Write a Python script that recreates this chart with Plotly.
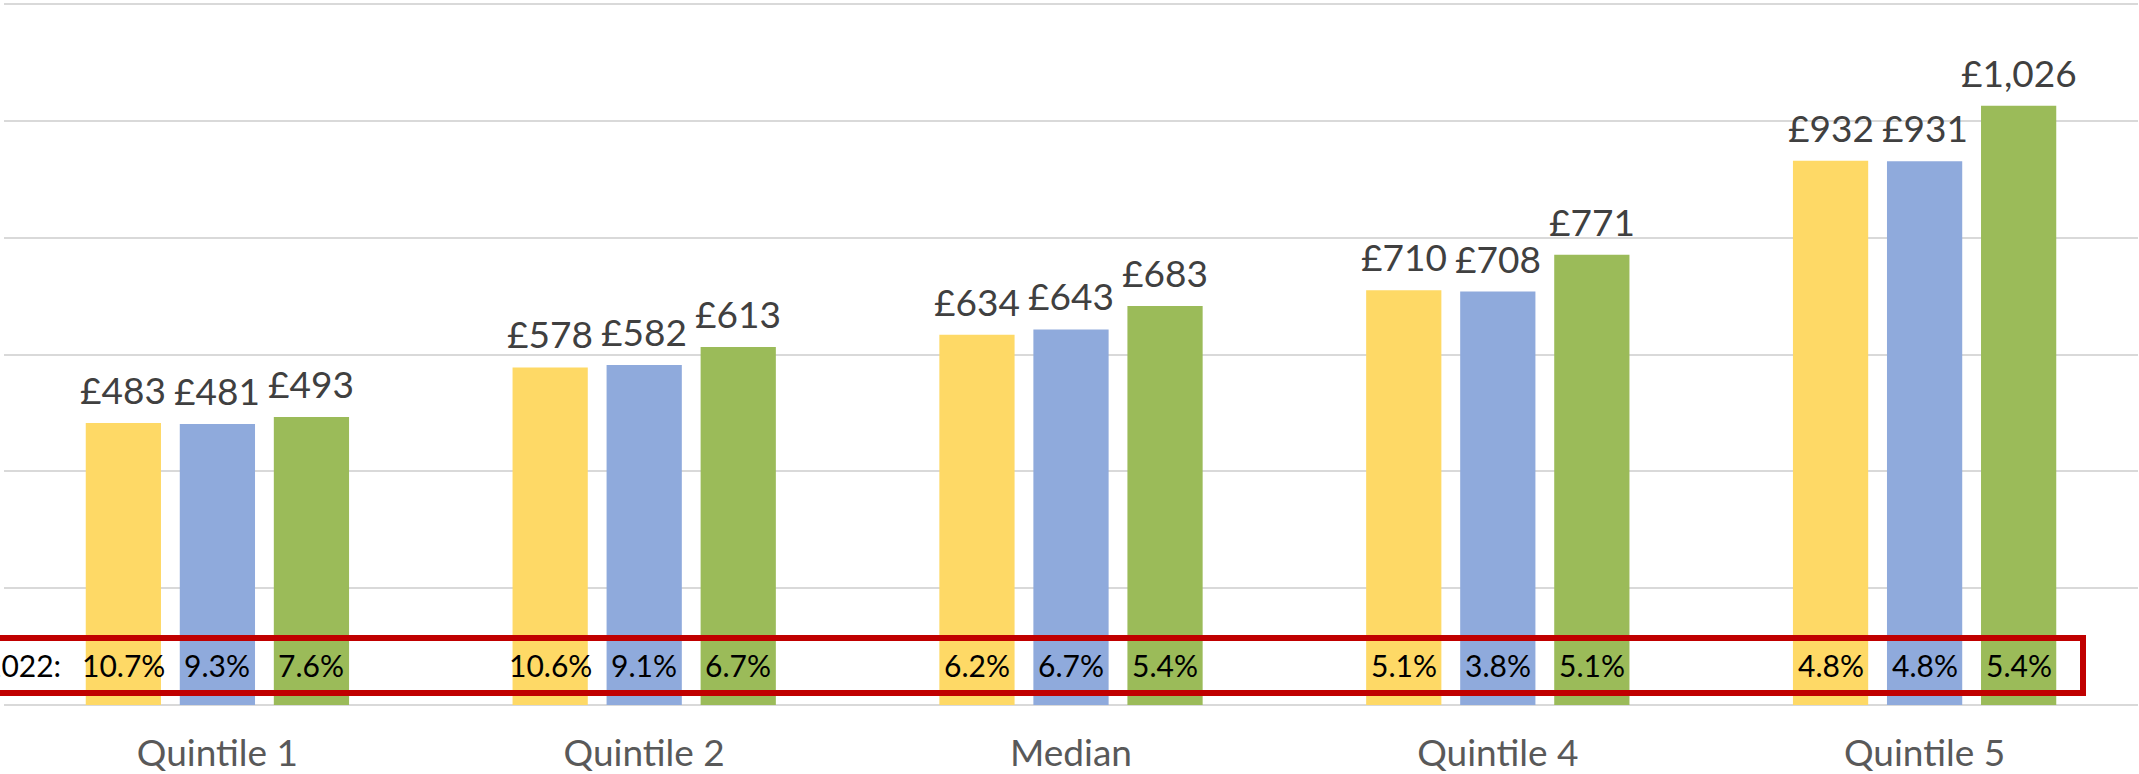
import plotly.graph_objects as go

# Weekly amounts by income group, three series, plus year-on-year change
categories = ["Quintile 1", "Quintile 2", "Median", "Quintile 4", "Quintile 5"]
series_names = ["Series 1", "Series 2", "Series 3"]
values_s1 = [483, 578, 634, 710, 932]
values_s2 = [481, 582, 643, 708, 931]
values_s3 = [493, 613, 683, 771, 1026]
change_s1 = ["10.7%", "10.6%", "6.2%", "5.1%", "4.8%"]
change_s2 = ["9.3%", "9.1%", "6.7%", "3.8%", "4.8%"]
change_s3 = ["7.6%", "6.7%", "5.4%", "5.1%", "5.4%"]
change_label = "2022:"
y_ticks = [0, 200, 400, 600, 800, 1000, 1200]

colors = ["#FED966", "#8FAADC", "#9BBB59"]
font_family = "Lato, 'Open Sans', sans-serif"

W, H = 2139, 774
margin = dict(l=4, r=1, t=3, b=69)
BARGAP = 0.339

fig = go.Figure()
all_values = [values_s1, values_s2, values_s3]
for name, vals, col in zip(series_names, all_values, colors):
    fig.add_trace(go.Bar(
        name=name,
        x=categories,
        y=vals,
        marker=dict(color=col, line=dict(width=0)),
        hoverinfo="x+y",
    ))

plot_w = W - margin["l"] - margin["r"]
slot_px = plot_w / len(categories) * (1 - BARGAP) / 3

# Value labels above each bar
for k, vals in enumerate(all_values):
    for cat, v in zip(categories, vals):
        fig.add_annotation(
            x=cat, y=v, xref="x", yref="y",
            text=f"£{v:,}", showarrow=False,
            xanchor="center", yanchor="bottom",
            xshift=(k - 1) * slot_px, yshift=9,
            font=dict(family=font_family, size=37, color="#404040"),
        )

# Percentage changes written inside the lower part of each bar
label_y = 68
for k, changes in enumerate([change_s1, change_s2, change_s3]):
    for cat, txt in zip(categories, changes):
        fig.add_annotation(
            x=cat, y=label_y, xref="x", yref="y",
            text=txt, showarrow=False,
            xshift=(k - 1) * slot_px,
            font=dict(family=font_family, size=30, color="#000000"),
        )

fig.add_annotation(
    x=(63 - margin["l"]) / plot_w, y=label_y, xref="paper", yref="y",
    xanchor="right", text=change_label, showarrow=False,
    font=dict(family=font_family, size=30, color="#000000"),
)

# Highlight box round the change row
fig.add_shape(
    type="rect", xref="paper", yref="y",
    x0=-0.02, x1=(2083 - margin["l"]) / plot_w, y0=20.6, y1=114.8,
    line=dict(color="#C00000", width=6), fillcolor="rgba(0,0,0,0)",
    layer="above",
)

fig.update_layout(
    width=W, height=H,
    margin=margin,
    paper_bgcolor="white",
    plot_bgcolor="white",
    barmode="group",
    bargap=BARGAP,
    bargroupgap=0.2,
    showlegend=False,
    xaxis=dict(
        showgrid=False, showline=False, zeroline=False,
        ticks="", ticklabelstandoff=23,
        tickfont=dict(family=font_family, size=37, color="#595959"),
    ),
    yaxis=dict(
        range=[0, 1202], tickvals=y_ticks, showticklabels=False,
        showgrid=True, gridcolor="#D9D9D9", gridwidth=2,
        zeroline=True, zerolinecolor="#D9D9D9", zerolinewidth=2,
        showline=False,
    ),
)

fig.write_html("out.html")
